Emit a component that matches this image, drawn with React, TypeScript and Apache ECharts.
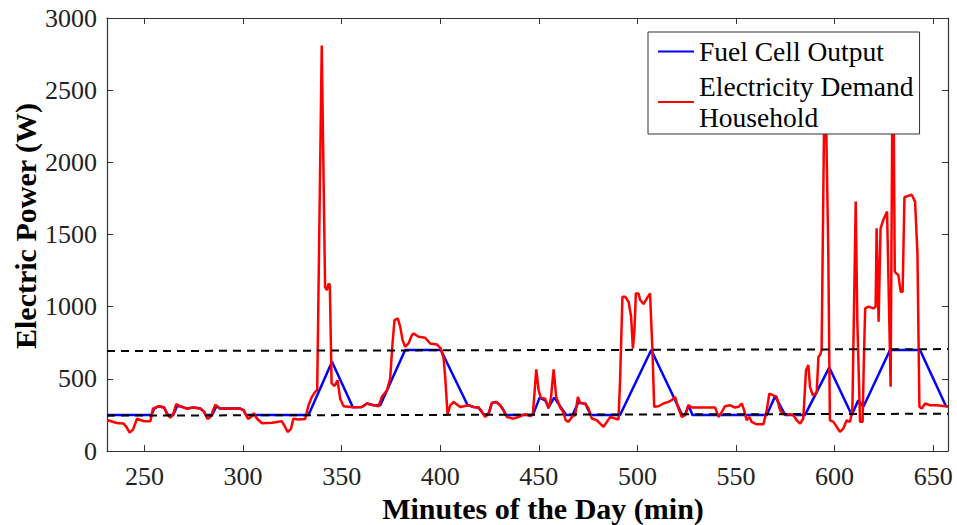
import React, { useEffect, useRef } from "react";
import * as echarts from "echarts";

const xTicks = [250, 300, 350, 400, 450, 500, 550, 600, 650];

const demandPoints: [number, number][] = [
  [231.3, 213], [236, 194], [239.4, 190], [240.8, 167], [242.5, 128], [244.2, 148], [246.2, 224],
  [249.6, 206], [253, 206], [254.3, 294], [257.2, 310], [260, 301], [261.4, 259], [263.1, 231],
  [264.4, 248], [266.1, 324], [268.2, 310], [271.5, 294], [274.9, 301], [278.3, 294], [280.3, 271],
  [282, 222], [283.7, 241], [285.9, 320], [288.4, 294], [298.6, 294], [300.3, 282], [302.5, 222],
  [304.5, 241], [305.5, 262], [307, 225], [309.6, 192], [314.7, 196], [319.7, 206], [321.2, 170],
  [322.6, 132], [324.3, 153], [325.5, 224], [328.2, 218], [331.5, 222], [333.2, 317], [334.9, 375],
  [336.6, 410], [337.6, 421], [339.9, 2810], [341.6, 1135], [342.5, 1115], [343.4, 1160], [344, 1150],
  [344.9, 470], [346.4, 450], [347.9, 490], [349.3, 360], [351, 310], [355.5, 303], [360.3, 305],
  [362.8, 329], [366.2, 317], [368.7, 310], [370.4, 375], [373, 421], [374.6, 502], [375.8, 745],
  [376.8, 907], [378.5, 918], [379.7, 861], [380.9, 768], [382.2, 722], [383.9, 745], [385.6, 803],
  [386.5, 814], [389, 791], [392.4, 784], [394.9, 745], [398.3, 738], [400.3, 710], [401.7, 641],
  [402.5, 514], [403.7, 255], [405.1, 317], [406.8, 340], [410.1, 305], [414.4, 317], [416.9, 305],
  [419.4, 301], [421.1, 271], [422.8, 236], [424.5, 259], [426.2, 333], [428.4, 340], [430.4, 317],
  [432.1, 282], [433.8, 236], [437.2, 224], [440.6, 241], [443.1, 255], [445.6, 241], [447, 259],
  [448.7, 565], [449.9, 421], [451, 370], [453.2, 363], [454.9, 294], [456.1, 363], [457.5, 565],
  [458.8, 375], [460.8, 301], [462.5, 268], [463.6, 213], [465, 202], [467.1, 241], [468.4, 248],
  [469.8, 375], [471, 333], [473.5, 329], [475.2, 294], [476.9, 225], [479.4, 213], [481.1, 190],
  [482.8, 167], [484.5, 202], [486.2, 236], [488.7, 225], [490.4, 218], [491.2, 491], [492.4, 1069],
  [493.8, 1069], [495.5, 1034], [496.8, 930], [497.7, 710], [498.5, 838], [499.2, 1092], [500.5, 1092],
  [501.4, 1046], [503.1, 1018], [504.8, 1057], [506.4, 1092], [507.6, 699], [508.5, 306], [510.7, 310],
  [513.2, 329], [515.7, 340], [517.4, 352], [519.1, 375], [520.8, 294], [522.5, 236], [524.2, 248],
  [525.9, 317], [527.6, 301], [539.4, 301], [541.1, 236], [542.8, 271], [544.4, 310], [547, 317],
  [549.5, 301], [551.2, 306], [552.9, 329], [554.1, 283], [555.4, 213], [556.8, 236], [557.9, 202],
  [560.5, 185], [563.9, 185], [565.6, 283], [566.9, 398], [568.6, 387], [570.6, 375], [572.3, 283],
  [574, 255], [577.4, 255], [579.1, 248], [580.8, 213], [582.5, 190], [584.1, 225], [585.5, 560],
  [586.7, 595], [587.5, 445], [588.9, 387], [590.9, 403], [591.8, 653], [592.6, 665], [593.4, 699],
  [594.8, 2450], [595.5, 2450], [596.8, 1370], [597.6, 213], [599.4, 202], [601.1, 167], [602.7, 132],
  [604.4, 155], [606.1, 213], [607.8, 202], [609, 283], [610.7, 1728], [611.5, 907], [612.9, 202],
  [614.2, 202], [614.9, 676], [615.5, 988], [617.1, 1000], [619.7, 988], [620.8, 1000], [621.3, 1543],
  [622.3, 896], [623.3, 1543], [624.7, 1601], [626.6, 1659], [628.4, 445], [629.3, 2450], [629.9, 2450],
  [630.5, 1243], [631.2, 1231], [632.3, 1220], [633.5, 1104], [634.5, 1104], [635.4, 1758], [637.4, 1768],
  [639.1, 1775], [640.8, 1728], [642, 1370], [643, 306], [644.2, 294], [645.9, 329], [648.4, 317],
  [651.8, 317], [656, 310], [657.5, 310],
];

const fuelCellPoints: [number, number][] = [
  [231.3, 250], [253.5, 250], [255, 294], [257.2, 310], [260, 301], [261.4, 259], [262, 250],
  [264.6, 250], [266.5, 310], [268.2, 310], [271.5, 294], [274.9, 301], [278.3, 294], [280.3, 271],
  [281, 250], [284.3, 250], [286.5, 310], [288.4, 294], [298.6, 294], [300.3, 282], [301.5, 250],
  [333.2, 250], [345.1, 618], [355.7, 303], [360.3, 305], [362.8, 329], [366.2, 317], [369.6, 317],
  [382.2, 700], [400.3, 700], [413.9, 317], [414.4, 317], [416.9, 305], [419.4, 301], [421.1, 271],
  [422.3, 250], [424.6, 259], [426.2, 333], [428.4, 340], [430.4, 317], [432.1, 282], [433.2, 250],
  [447, 250], [450.4, 370], [453.2, 350], [455, 305], [457.8, 370], [463.9, 250], [467.1, 250],
  [469.9, 335], [473.5, 329], [476.3, 250], [491.2, 250], [507, 700], [522.7, 250], [524.2, 250],
  [525.9, 317], [527.9, 250], [565.6, 250], [569.8, 380], [574.9, 250], [585, 250], [597.3, 579],
  [608.7, 250], [612, 352], [614.6, 306], [628.1, 700], [643.3, 700], [656.5, 310], [657.5, 310],
];

const lowerLimit: [number, number][] = [[231, 245], [657.5, 258]];
const upperLimit: [number, number][] = [[231, 692], [657.5, 706]];

const SERIF = "'Liberation Serif', 'Times New Roman', serif";
const AXIS_COLOR = "#333";

export default function App() {
  const ref = useRef<HTMLDivElement>(null);
  useEffect(() => {
    if (!ref.current) return;
    const chart = echarts.init(ref.current, null, { renderer: "svg" });
    const tickStyle = { show: true, inside: true, length: 6, lineStyle: { color: AXIS_COLOR, width: 1 } };
    const lineAxis = { show: true, onZero: false, lineStyle: { color: AXIS_COLOR, width: 1.2 } };
    chart.setOption({
      animation: false,
      backgroundColor: "#fff",
      grid: { left: 107, right: 9, top: 18, bottom: 74, containLabel: false },
      xAxis: [
        {
          type: "value", min: 231, max: 657.5, position: "bottom",
          axisLine: lineAxis,
          axisTick: { ...tickStyle, customValues: xTicks },
          axisLabel: {
            customValues: xTicks, fontFamily: SERIF, fontSize: 26, color: "#222", margin: 12,
            formatter: (v: number) => String(v),
          },
          splitLine: { show: false },
        },
        {
          type: "value", min: 231, max: 657.5, position: "top",
          axisLine: lineAxis,
          axisTick: { ...tickStyle, customValues: xTicks },
          axisLabel: { show: false },
          splitLine: { show: false },
        },
      ],
      yAxis: [
        {
          type: "value", min: 0, max: 3000, interval: 500, position: "left",
          axisLine: lineAxis,
          axisTick: tickStyle,
          axisLabel: {
            fontFamily: SERIF, fontSize: 26, color: "#222", margin: 10,
            formatter: (v: number) => String(v),
          },
          splitLine: { show: false },
        },
        {
          type: "value", min: 0, max: 3000, interval: 500, position: "right",
          axisLine: lineAxis,
          axisTick: tickStyle,
          axisLabel: { show: false },
          splitLine: { show: false },
        },
      ],
      legend: {
        data: [
          { name: "Fuel Cell Output", icon: "rect" },
          { name: "Electricity Demand Household", icon: "rect" },
        ],
        orient: "vertical",
        left: 648,
        top: 32,
        itemWidth: 36,
        itemHeight: 2,
        itemGap: 4,
        padding: [4, 6, 1, 10],
        backgroundColor: "#fff",
        borderColor: AXIS_COLOR,
        borderWidth: 1,
        z: 10,
        formatter: (name: string) =>
          name === "Electricity Demand Household" ? "Electricity Demand\nHousehold" : name,
        textStyle: { fontFamily: SERIF, fontSize: 27.5, lineHeight: 31, color: "#000" },
      },
      series: [
        {
          name: "Fuel Cell Output", type: "line", data: fuelCellPoints,
          symbol: "none", showSymbol: false, color: "#0000ff",
          lineStyle: { color: "#0000ff", width: 2.5 }, z: 2,
        },
        {
          name: "Electricity Demand Household", type: "line", data: demandPoints,
          symbol: "none", showSymbol: false, color: "#ff0000",
          lineStyle: { color: "#ff0000", width: 2.5 }, z: 3,
        },
        {
          name: "Lower", type: "line", data: lowerLimit, symbol: "none", silent: true,
          lineStyle: { color: "#000", width: 2, type: [8, 6] }, z: 4,
        },
        {
          name: "Upper", type: "line", data: upperLimit, symbol: "none", silent: true,
          lineStyle: { color: "#000", width: 2, type: [8, 6] }, z: 4,
        },
      ],
      graphic: [
        {
          type: "text", x: 543, y: 508,
          style: {
            text: "Minutes of the Day (min)", fontFamily: SERIF, fontWeight: "bold", fontSize: 30,
            fill: "#000", align: "center", verticalAlign: "middle",
          },
        },
        {
          type: "text", x: 25, y: 226, rotation: Math.PI / 2,
          style: {
            text: "Electric Power (W)", fontFamily: SERIF, fontWeight: "bold", fontSize: 30,
            fill: "#000", align: "center", verticalAlign: "middle",
          },
        },
      ],
    });
    return () => chart.dispose();
  }, []);
  return (
    <div
      ref={ref}
      style={{ position: "absolute", left: 0, top: 0, width: 957, height: 525, background: "#fff" }}
    />
  );
}
